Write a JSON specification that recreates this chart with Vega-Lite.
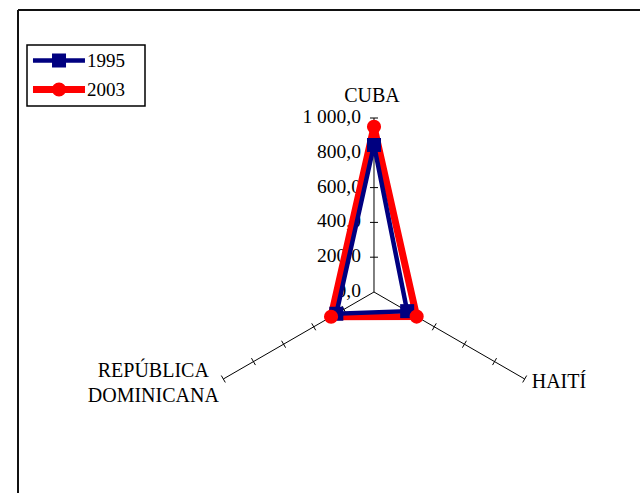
{
  "$schema": "https://vega.github.io/schema/vega-lite/v6.json",
  "width": 622,
  "height": 483,
  "padding": {"left": 18, "top": 10, "right": 0, "bottom": 0},
  "autosize": {"type": "none"},
  "background": "white",
  "config": {"view": {"stroke": null}, "font": "'Liberation Serif', 'Times New Roman', serif"},
  "datasets": {
    "series": [
      {"pais": "CUBA", "anio": "1995", "valor": 845},
      {"pais": "HAITÍ", "anio": "1995", "valor": 220},
      {"pais": "REPÚBLICA DOMINICANA", "anio": "1995", "valor": 250},
      {"pais": "CUBA", "anio": "2003", "valor": 950},
      {"pais": "HAITÍ", "anio": "2003", "valor": 283},
      {"pais": "REPÚBLICA DOMINICANA", "anio": "2003", "valor": 285}
    ],
    "ejes": [
      {"pais": "CUBA", "valor": 1000, "texto": "CUBA"},
      {"pais": "HAITÍ", "valor": 1000, "texto": "HAITÍ"},
      {"pais": "REPÚBLICA DOMINICANA", "valor": 1000, "texto": "REPÚBLICA\nDOMINICANA"}
    ],
    "marcas": [
      {"pais": "CUBA", "valor": 200}, {"pais": "CUBA", "valor": 400}, {"pais": "CUBA", "valor": 600}, {"pais": "CUBA", "valor": 800}, {"pais": "CUBA", "valor": 1000},
      {"pais": "HAITÍ", "valor": 200}, {"pais": "HAITÍ", "valor": 400}, {"pais": "HAITÍ", "valor": 600}, {"pais": "HAITÍ", "valor": 800}, {"pais": "HAITÍ", "valor": 1000},
      {"pais": "REPÚBLICA DOMINICANA", "valor": 200}, {"pais": "REPÚBLICA DOMINICANA", "valor": 400}, {"pais": "REPÚBLICA DOMINICANA", "valor": 600}, {"pais": "REPÚBLICA DOMINICANA", "valor": 800}, {"pais": "REPÚBLICA DOMINICANA", "valor": 1000}
    ],
    "escala": [
      {"valor": 0, "texto": "0,0"},
      {"valor": 200, "texto": "200,0"},
      {"valor": 400, "texto": "400,0"},
      {"valor": 600, "texto": "600,0"},
      {"valor": 800, "texto": "800,0"},
      {"valor": 1000, "texto": "1 000,0"}
    ]
  },
  "encoding": {
    "x": {"field": "x", "type": "quantitative", "scale": {"domain": [-2045.98, 1528.74], "nice": false, "zero": false},
      "axis": {"orient": "top", "labels": false, "ticks": false, "grid": false, "title": null, "domainColor": "#111111", "domainWidth": 2, "translate": 0}},
    "y": {"field": "y", "type": "quantitative", "scale": {"domain": [-1155.17, 1620.69], "nice": false, "zero": false},
      "axis": {"orient": "left", "labels": false, "ticks": false, "grid": false, "title": null, "domainColor": "#111111", "domainWidth": 2, "translate": 0}}
  },
  "layer": [
    {
      "data": {"name": "ejes"},
      "transform": [
        {"calculate": "datum.pais == 'CUBA' ? 90 : (datum.pais == 'HAITÍ' ? -30 : 210)", "as": "ang"},
        {"calculate": "datum.valor*cos(datum.ang*PI/180)", "as": "x"},
        {"calculate": "datum.valor*sin(datum.ang*PI/180)", "as": "y"}
      ],
      "mark": {"type": "rule", "color": "#000000", "strokeWidth": 1},
      "encoding": {"x2": {"datum": 0}, "y2": {"datum": 0}}
    },
    {
      "data": {"name": "marcas"},
      "transform": [
        {"calculate": "datum.pais == 'CUBA' ? 90 : (datum.pais == 'HAITÍ' ? -30 : 210)", "as": "ang"},
        {"calculate": "datum.valor*cos(datum.ang*PI/180) - 23*sin(datum.ang*PI/180)", "as": "x"},
        {"calculate": "datum.valor*sin(datum.ang*PI/180) + 23*cos(datum.ang*PI/180)", "as": "y"},
        {"calculate": "datum.valor*cos(datum.ang*PI/180) + 23*sin(datum.ang*PI/180)", "as": "xb"},
        {"calculate": "datum.valor*sin(datum.ang*PI/180) - 23*cos(datum.ang*PI/180)", "as": "yb"}
      ],
      "mark": {"type": "rule", "color": "#000000", "strokeWidth": 1},
      "encoding": {"x2": {"field": "xb"}, "y2": {"field": "yb"}}
    },
    {
      "data": {"name": "escala"},
      "transform": [
        {"calculate": "0", "as": "x"},
        {"calculate": "datum.valor", "as": "y"}
      ],
      "mark": {"type": "text", "align": "right", "baseline": "alphabetic", "dx": -13, "dy": 5, "fontSize": 19.5, "font": "Liberation Serif", "color": "#000000"},
      "encoding": {"text": {"field": "texto"}}
    },
    {
      "data": {"name": "series"},
      "transform": [
        {"filter": "datum.anio == '2003'"},
        {"calculate": "datum.pais == 'CUBA' ? 90 : (datum.pais == 'HAITÍ' ? -30 : 210)", "as": "ang"},
        {"calculate": "datum.valor*cos(datum.ang*PI/180)", "as": "x"},
        {"calculate": "datum.valor*sin(datum.ang*PI/180)", "as": "y"}
      ],
      "mark": {"type": "line", "interpolate": "linear-closed", "color": "#FF0000", "strokeWidth": 7},
      "encoding": {"order": {"field": "ang", "type": "quantitative"}}
    },
    {
      "data": {"name": "series"},
      "transform": [
        {"filter": "datum.anio == '1995'"},
        {"calculate": "datum.pais == 'CUBA' ? 90 : (datum.pais == 'HAITÍ' ? -30 : 210)", "as": "ang"},
        {"calculate": "datum.valor*cos(datum.ang*PI/180)", "as": "x"},
        {"calculate": "datum.valor*sin(datum.ang*PI/180)", "as": "y"}
      ],
      "mark": {"type": "line", "interpolate": "linear-closed", "color": "#000080", "strokeWidth": 4.5},
      "encoding": {"order": {"field": "ang", "type": "quantitative"}}
    },
    {
      "data": {"name": "series"},
      "transform": [
        {"filter": "datum.anio == '1995'"},
        {"calculate": "datum.pais == 'CUBA' ? 90 : (datum.pais == 'HAITÍ' ? -30 : 210)", "as": "ang"},
        {"calculate": "datum.valor*cos(datum.ang*PI/180)", "as": "x"},
        {"calculate": "datum.valor*sin(datum.ang*PI/180)", "as": "y"}
      ],
      "mark": {"type": "point", "shape": "square", "filled": true, "size": 196, "color": "#000080", "opacity": 1}
    },
    {
      "data": {"name": "series"},
      "transform": [
        {"filter": "datum.anio == '2003'"},
        {"calculate": "datum.pais == 'CUBA' ? 90 : (datum.pais == 'HAITÍ' ? -30 : 210)", "as": "ang"},
        {"calculate": "datum.valor*cos(datum.ang*PI/180)", "as": "x"},
        {"calculate": "datum.valor*sin(datum.ang*PI/180)", "as": "y"}
      ],
      "mark": {"type": "point", "shape": "circle", "filled": true, "size": 200, "color": "#FF0000", "opacity": 1}
    },
    {
      "data": {"name": "ejes"},
      "transform": [
        {"filter": "datum.pais == 'CUBA'"},
        {"calculate": "0", "as": "x"},
        {"calculate": "datum.valor", "as": "y"}
      ],
      "mark": {"type": "text", "align": "center", "baseline": "alphabetic", "dx": -2, "dy": -16, "fontSize": 20, "font": "Liberation Serif", "color": "#000000"},
      "encoding": {"text": {"field": "texto"}}
    },
    {
      "data": {"name": "ejes"},
      "transform": [
        {"filter": "datum.pais == 'HAITÍ'"},
        {"calculate": "datum.valor*cos(-30*PI/180)", "as": "x"},
        {"calculate": "datum.valor*sin(-30*PI/180)", "as": "y"}
      ],
      "mark": {"type": "text", "align": "left", "baseline": "alphabetic", "dx": 7, "dy": 9, "fontSize": 20, "font": "Liberation Serif", "color": "#000000"},
      "encoding": {"text": {"field": "texto"}}
    },
    {
      "data": {"name": "ejes"},
      "transform": [
        {"filter": "datum.pais == 'REPÚBLICA DOMINICANA'"},
        {"calculate": "datum.valor*cos(210*PI/180)", "as": "x"},
        {"calculate": "datum.valor*sin(210*PI/180)", "as": "y"}
      ],
      "mark": {"type": "text", "align": "center", "baseline": "alphabetic", "dx": -70, "dy": -2, "lineBreak": "\n", "lineHeight": 25, "fontSize": 20, "font": "Liberation Serif", "color": "#000000"},
      "encoding": {"text": {"field": "texto"}}
    },
    {
      "data": {"name": "series"},
      "transform": [
        {"filter": "datum.valor < 0"},
        {"calculate": "0", "as": "x"},
        {"calculate": "0", "as": "y"}
      ],
      "mark": {"type": "point", "filled": true},
      "encoding": {
        "color": {"field": "anio", "type": "nominal",
          "scale": {"domain": ["1995", "2003"], "range": ["#000080", "#FF0000"]},
          "legend": {"title": null, "orient": "none", "legendX": 9, "legendY": 35, "padding": 6,
            "strokeColor": "#000000", "fillColor": "#FFFFFF",
            "symbolSize": 256, "symbolStrokeWidth": 0, "symbolOpacity": 1, "symbolOffset": 0,
            "labelOffset": 35, "labelFont": "Liberation Serif", "labelFontSize": 19, "labelColor": "#000000",
            "labelExpr": "datum.label + '\u2800'", "rowPadding": 9,
            "encode": {"legend": {"update": {"strokeWidth": {"value": 1.5}}}}}},
        "shape": {"field": "anio", "type": "nominal",
          "scale": {"domain": ["1995", "2003"], "range": [
            "M-1.19,-0.28H5.31V0.28H-1.19Z M1.19,-0.88H2.94V0.88H1.19Z",
            "M-1.19,-0.44H5.31V0.44H-1.19Z M1.19,0A0.875,0.875 0 1,1 2.94,0A0.875,0.875 0 1,1 1.19,0Z"
          ]},
          "legend": {"title": null, "orient": "none", "legendX": 9, "legendY": 35, "padding": 6,
            "strokeColor": "#000000", "fillColor": "#FFFFFF",
            "symbolSize": 256, "symbolStrokeWidth": 0, "symbolOpacity": 1, "symbolOffset": 0,
            "labelOffset": 35, "labelFont": "Liberation Serif", "labelFontSize": 19, "labelColor": "#000000",
            "labelExpr": "datum.label + '\u2800'", "rowPadding": 9,
            "encode": {"legend": {"update": {"strokeWidth": {"value": 1.5}}}}}}
      }
    }
  ]
}
